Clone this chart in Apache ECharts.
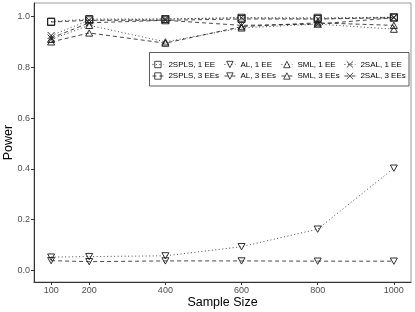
<!DOCTYPE html>
<html>
<head>
<meta charset="utf-8">
<script src="https://cdn.jsdelivr.net/npm/echarts@6/dist/echarts.min.js"></script>
<style>
html,body{margin:0;padding:0;background:#fff;}
#chart{width:415px;height:312px;}
</style>
</head>
<body>
<div id="chart"></div>
<script>
var sampleSizes = [100, 200, 400, 600, 800, 1000];
var xTicks = [100, 200, 400, 600, 800, 1000];
var yTicks = [0, 0.2, 0.4, 0.6, 0.8, 1.0];

var spls1 = [0.980, 0.990, 0.990, 0.995, 0.995, 0.997];
var spls3 = [0.978, 0.985, 0.985, 0.990, 0.990, 0.995];
var al1   = [0.053, 0.055, 0.058, 0.094, 0.163, 0.403];
var al3   = [0.039, 0.035, 0.038, 0.038, 0.037, 0.037];
var sml1  = [0.910, 0.965, 0.900, 0.955, 0.970, 0.950];
var sml3  = [0.900, 0.935, 0.895, 0.960, 0.975, 0.965];
var sal1  = [0.925, 0.985, 0.990, 0.995, 0.990, 0.997];
var sal3  = [0.915, 0.975, 0.985, 0.965, 0.970, 0.995];

var seriesNames = ['2SPLS, 1 EE', '2SPLS, 3 EEs', 'AL, 1 EE', 'AL, 3 EEs',
                   'SML, 1 EE', 'SML, 3 EEs', '2SAL, 1 EE', '2SAL, 3 EEs'];
var seriesValues = [spls1, spls3, al1, al3, sml1, sml3, sal1, sal3];

var SQ = 'path://M0,0H10V10H0Z';
var DT = 'path://M0,0L10,0L5,9Z';
var UT = 'path://M5,0L10,9L0,9Z';
var XX = 'path://M0,0L10,10M10,0L0,10';
var symbols = [SQ, SQ, DT, DT, UT, UT, XX, XX];
var DOT = [1, 2.5];
var DASH = [4, 3];
var lineTypes = [DOT, DASH, DOT, DASH, DOT, DASH, DOT, DASH];

var FONT = 'Liberation Sans, Arial, Helvetica, sans-serif';
var INK = '#1a1a1a';

var series = seriesNames.map(function (name, i) {
  return {
    name: name,
    type: 'line',
    data: sampleSizes.map(function (x, j) { return [x, seriesValues[i][j]]; }),
    symbol: symbols[i],
    symbolSize: 7,
    symbolKeepAspect: true,
    showAllSymbol: true,
    lineStyle: { color: INK, width: 0.8, type: lineTypes[i] },
    itemStyle: { color: 'rgba(255,255,255,0)', borderColor: INK, borderWidth: 0.9 },
    emphasis: { disabled: true },
    animation: false,
    z: 2
  };
});

function legendCol(left, names) {
  return {
    orient: 'vertical',
    left: left,
    top: 60.5,
    padding: 0,
    itemGap: 3.5,
    itemWidth: 11,
    itemHeight: 8,
    data: names,
    selectedMode: false,
    itemStyle: { color: 'rgba(255,255,255,0)', borderColor: INK, borderWidth: 0.8 },
    lineStyle: { color: INK, width: 0.8 },
    textStyle: { fontFamily: FONT, fontSize: 8, color: '#000', lineHeight: 8 }
  };
}

var chart = echarts.init(document.getElementById('chart'), null, { renderer: 'canvas' });
chart.setOption({
  animation: false,
  backgroundColor: '#fff',
  grid: {
    left: 34, right: 4, top: 3, bottom: 30,
    outerBoundsMode: 'none',
    show: true, borderColor: '#9a9a9a', borderWidth: 1, backgroundColor: '#fff'
  },
  xAxis: {
    type: 'value',
    min: 55, max: 1045,
    name: 'Sample Size',
    nameLocation: 'middle',
    nameGap: 14,
    nameMoveOverlap: false,
    nameTextStyle: { fontFamily: FONT, fontSize: 12.5, color: '#000' },
    axisLine: { show: true, onZero: false, lineStyle: { color: '#333', width: 1 } },
    axisTick: { show: true, length: 3, customValues: xTicks, lineStyle: { color: '#333' } },
    axisLabel: {
      customValues: xTicks, margin: 4, fontFamily: FONT, fontSize: 9, color: '#4d4d4d',
      formatter: function (v) { return String(v); }
    },
    splitLine: { show: false }
  },
  yAxis: {
    type: 'value',
    min: -0.045, max: 1.053,
    name: 'Power',
    nameLocation: 'middle',
    nameGap: 19,
    nameMoveOverlap: false,
    nameRotate: 90,
    nameTextStyle: { fontFamily: FONT, fontSize: 12.5, color: '#000' },
    axisLine: { show: true, onZero: false, lineStyle: { color: '#333', width: 1 } },
    axisTick: { show: true, length: 3, customValues: yTicks, lineStyle: { color: '#333' } },
    axisLabel: {
      customValues: yTicks, margin: 4, fontFamily: FONT, fontSize: 9, color: '#4d4d4d',
      formatter: function (v) { return v.toFixed(1); }
    },
    splitLine: { show: false }
  },
  legend: [
    legendCol(152, [seriesNames[0], seriesNames[1]]),
    legendCol(224, [seriesNames[2], seriesNames[3]]),
    legendCol(281, [seriesNames[4], seriesNames[5]]),
    legendCol(344, [seriesNames[6], seriesNames[7]])
  ],
  graphic: [{
    type: 'rect',
    shape: { x: 149.5, y: 52.5, width: 259.5, height: 33.5 },
    style: { fill: '#fff', stroke: '#333', lineWidth: 0.8 },
    z: 3,
    silent: true
  }],
  series: series
});
</script>
</body>
</html>
